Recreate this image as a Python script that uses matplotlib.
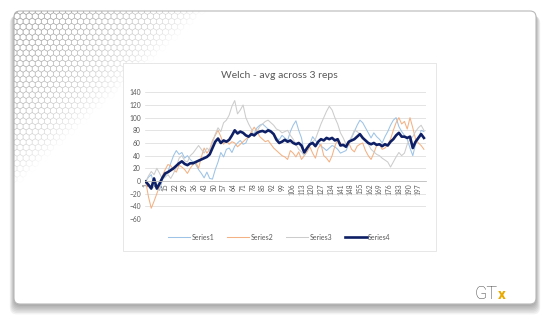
import numpy as np
import matplotlib
matplotlib.use("Agg")
import matplotlib.pyplot as plt
from matplotlib.patches import FancyBboxPatch, Rectangle
from matplotlib.collections import PolyCollection

# run index, every 2nd observation
obs = list(range(1, 202, 2))

series1 = [-1, 6, 10, -5, -10, -15, 2, 8, 15, 28, 40, 48, 42, 45, 36, 40, 34, 30, 26, 18,
           12, 5, 14, 4, 3, 18, 30, 45, 38, 50, 52, 45, 55, 60, 64, 58, 60, 70, 72, 75,
           84, 88, 90, 86, 82, 80, 74, 68, 65, 72, 68, 64, 78, 88, 95, 80, 68, 45, 50, 58,
           70, 64, 60, 55, 52, 48, 52, 56, 54, 50, 44, 46, 48, 58, 68, 78, 88, 96, 92, 84,
           76, 68, 76, 70, 66, 60, 70, 78, 88, 96, 100, 86, 78, 72, 66, 52, 40, 58, 66, 80,
           78]
series2 = [-1, -25, -43, -32, -20, -8, 8, 18, 26, 24, 18, 14, 25, 22, 18, 12, 20, 26, 30, 20,
           38, 52, 44, 50, 64, 72, 80, 70, 58, 64, 58, 62, 60, 54, 58, 62, 66, 70, 78, 85,
           78, 70, 66, 62, 64, 58, 52, 48, 44, 40, 38, 34, 48, 44, 38, 46, 34, 40, 46, 54,
           44, 36, 52, 58, 40, 36, 30, 40, 55, 66, 60, 56, 54, 60, 50, 46, 55, 58, 60, 48,
           40, 34, 44, 56, 58, 50, 52, 58, 66, 80, 92, 100, 90, 94, 82, 100, 84, 66, 60, 56,
           50]
series3 = [-1, 8, 15, 10, 20, 12, 3, 6, 10, 4, 12, 22, 36, 40, 32, 30, 40, 44, 50, 56,
           50, 44, 52, 48, 60, 74, 84, 78, 92, 96, 104, 118, 127, 106, 112, 120, 100, 90, 82, 70,
           78, 86, 90, 94, 96, 92, 88, 82, 80, 76, 78, 80, 72, 66, 58, 50, 46, 40, 48, 56,
           62, 66, 78, 90, 100, 110, 118, 112, 100, 90, 76, 68, 58, 62, 70, 80, 78, 74, 70, 64,
           58, 50, 46, 42, 40, 36, 33, 30, 22, 30, 38, 45, 40, 44, 58, 66, 70, 78, 84, 88,
           80]
series4 = [-1, -6, -12, 4, -12, -4, 5, 12, 14, 17, 20, 24, 28, 31, 27, 25, 28, 28, 30, 32,
           34, 36, 38, 42, 52, 62, 67, 60, 64, 62, 65, 72, 80, 75, 78, 76, 72, 70, 74, 72,
           76, 78, 79, 77, 80, 78, 74, 65, 60, 62, 65, 62, 64, 60, 58, 60, 56, 45, 52, 58,
           60, 55, 62, 66, 64, 68, 66, 68, 64, 66, 56, 57, 54, 62, 64, 66, 70, 74, 68, 64,
           60, 58, 60, 57, 58, 55, 58, 56, 62, 66, 72, 76, 70, 70, 68, 70, 52, 62, 68, 74,
           68]

names = ["Series1", "Series2", "Series3", "Series4"]
colors = ["#9DC3E6", "#F4B183", "#CCCCCC", "#0E1F66"]
widths = [0.75, 0.75, 0.75, 1.9]

W, H = 550, 322
fig = plt.figure(figsize=(W / 100, H / 100), dpi=100)


def box(x0, y0, x1, y1):
    return [x0 / W, 1 - y1 / H, (x1 - x0) / W, (y1 - y0) / H]


bg = fig.add_axes([0, 0, 1, 1])
bg.set_xlim(0, W)
bg.set_ylim(H, 0)
bg.axis("off")

# slide card with soft shadow
for i in range(7):
    bg.add_patch(FancyBboxPatch((14 - i * 0.7, 13 + i * 0.5), 522 + i * 1.4, 293 + i * 0.9,
                                boxstyle="round,pad=0,rounding_size=7",
                                fc="black", ec="none", alpha=0.05))
card = FancyBboxPatch((14, 11), 522, 293, boxstyle="round,pad=0,rounding_size=6",
                      fc="white", ec="#b8b8b8", lw=0.8)
bg.add_patch(card)

# honeycomb pattern fading out from the top-left corner
r = 3.5
dx, dy = np.sqrt(3) * r, 1.5 * r
ang = np.deg2rad(90 + 60 * np.arange(6))
polys, ecols = [], []
for row in range(40):
    cy = 11 + row * dy
    for col in range(40):
        cx = 14 + col * dx + (dx / 2 if row % 2 else 0)
        d = (cx - 14) / 190 + (cy - 11) / 175
        a = max(0.0, 1 - d)
        if a <= 0:
            continue
        polys.append(np.column_stack([cx + r * np.cos(ang), cy + r * np.sin(ang)]))
        ecols.append((0.62, 0.62, 0.62, 0.8 * a ** 0.7))
hexes = PolyCollection(polys, facecolors="none", edgecolors=ecols, linewidths=0.45)
bg.add_collection(hexes)
hexes.set_clip_path(card)

# GTx logo
bg.text(475, 299, "GT", fontsize=13, color="#444444", family="Roboto",
        fontweight="light", va="baseline", ha="left")
bg.text(497.5, 299, "x", fontsize=11, color="#E8A900", family="Roboto",
        fontweight="bold", va="baseline", ha="left")

# chart area
bg.add_patch(Rectangle((123, 63), 313, 188, fc="white", ec="#e3e3e3", lw=0.6))
bg.text(279.5, 75, "Welch - avg across 3 reps", ha="center", va="center",
        fontsize=7.5, color="#595959", family="Lato")

ax = fig.add_axes(box(145, 92.3, 426, 219))
handles = []
for vals, name, c, lw in zip([series1, series2, series3, series4], names, colors, widths):
    h, = ax.plot(obs, vals, color=c, lw=lw, label=name, solid_joinstyle="round")
    handles.append(h)

ax.set_xlim(0.5, 202.5)
ax.set_ylim(-60, 140)
ax.set_yticks(range(-60, 141, 20))
ax.set_xticks(range(1, 198, 7))
ax.set_xticklabels([str(t) for t in range(1, 198, 7)])
ax.yaxis.grid(True, color="#D9D9D9", lw=0.5)
ax.set_axisbelow(True)
for s in ["left", "right", "top"]:
    ax.spines[s].set_visible(False)
ax.spines["bottom"].set_position(("data", 0))
ax.spines["bottom"].set_color("#BFBFBF")
ax.spines["bottom"].set_linewidth(0.6)
ax.tick_params(axis="both", length=0, labelsize=4.8, labelcolor="#595959")
ax.tick_params(axis="y", pad=3)
ax.tick_params(axis="x", pad=1.5, labelrotation=90)
for t in ax.get_xticklabels() + ax.get_yticklabels():
    t.set_family("Lato")
ax.patch.set_alpha(0)

fig.legend(handles, names, loc="center", bbox_to_anchor=(279.5 / W, 1 - 237 / H),
           ncol=4, frameon=False, prop={"family": "Lato", "size": 5},
           handlelength=3.2, handletextpad=0.2, columnspacing=1.8, labelcolor="#595959")

fig.savefig("out.png", dpi=100)
